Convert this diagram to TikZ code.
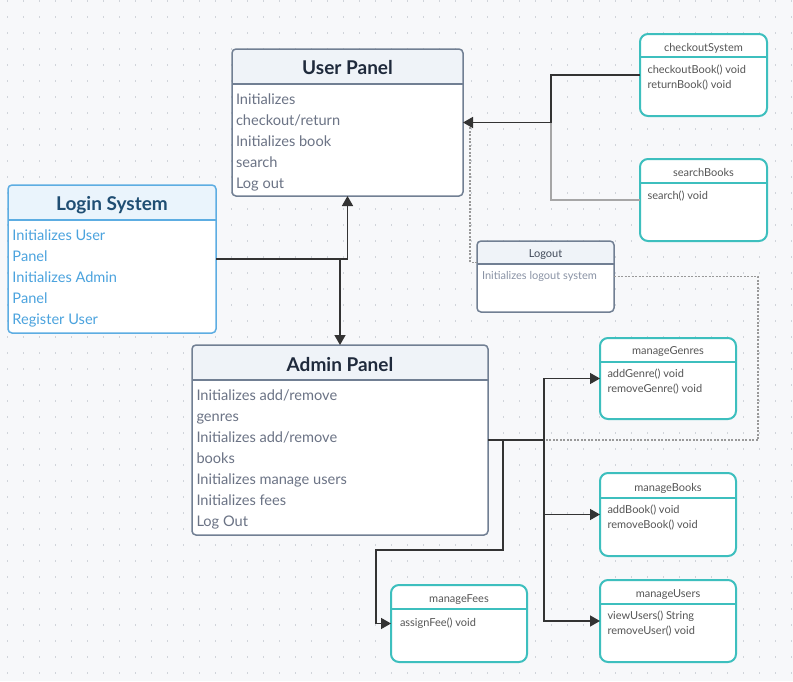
\documentclass[tikz,border=0pt]{standalone}
\usepackage{fontspec}
\setmainfont{Lato}
\usetikzlibrary{arrows.meta,calc}

\definecolor{canvas}{HTML}{F7F8FA}
\definecolor{griddot}{HTML}{D0D4DA}
\definecolor{panelborder}{HTML}{717F93}
\definecolor{panelhead}{HTML}{EFF3F8}
\definecolor{paneltitle}{HTML}{1F2A3C}
\definecolor{paneltext}{HTML}{6B7385}
\definecolor{loginborder}{HTML}{5DADE2}
\definecolor{loginhead}{HTML}{EAF4FC}
\definecolor{logintitle}{HTML}{1F4E73}
\definecolor{logintext}{HTML}{4BA3DE}
\definecolor{tealborder}{HTML}{3DBFBE}
\definecolor{tealtext}{HTML}{555555}
\definecolor{logouttext}{HTML}{8A93A5}
\definecolor{wire}{HTML}{333333}
\definecolor{wirelight}{HTML}{A6A6A6}
\definecolor{dashwire}{HTML}{999999}

\tikzset{
  boxbase/.style={fill=white, inner sep=0pt, outer sep=0pt},
  panel/.style={boxbase, draw=panelborder, line width=1.5pt, rounded corners=4pt},
  loginpanel/.style={boxbase, draw=loginborder, line width=1.5pt, rounded corners=4pt},
  tealbox/.style={boxbase, draw=tealborder, line width=2pt, rounded corners=8pt},
  txt/.style={inner sep=0pt, outer sep=0pt},
  bigtitle/.style={txt, font=\fontsize{19}{22}\selectfont\bfseries, text=paneltitle},
  paneltxt/.style={txt, font=\fontsize{14.6}{21}\selectfont, text=paneltext},
  logintitlefont/.style={txt, font=\fontsize{19}{22}\selectfont\bfseries, text=logintitle},
  logintxt/.style={txt, font=\fontsize{14.6}{21}\selectfont, text=logintext},
  smalltitle/.style={txt, font=\fontsize{11}{14}\selectfont, text=tealtext},
  smalltxt/.style={txt, font=\fontsize{11}{14}\selectfont, text=tealtext},
  logoutttl/.style={txt, font=\fontsize{11}{14}\selectfont, text=paneltitle!85},
  logouttxt/.style={txt, font=\fontsize{11}{14}\selectfont, text=logouttext},
  conn/.style={draw=wire, line width=1.5pt, -{Triangle[length=10pt,width=11pt]}},
  lightconn/.style={draw=wirelight, line width=1.5pt},
  dashconn/.style={draw=dashwire, line width=1.2pt, dash pattern=on 2pt off 1.5pt},
}

% class box: name, style, x, y, width, height, header height, header fill
\newcommand\classbox[8]{%
  \node[#2, minimum width=#5pt, minimum height=#6pt, anchor=north west,
    path picture={\fill[#8] (path picture bounding box.north west)
      rectangle ([yshift=-#7pt]path picture bounding box.north east);}]
    (#1) at (#3,#4) {};
  \draw[#2, fill=none, rounded corners=0pt]
    ([yshift=-#7pt]#1.north west) -- ([yshift=-#7pt]#1.north east);
}

% lines of a box body: name, style, x, first baseline, pitch, lines
\newcommand\bodylines[6]{%
  \foreach \t [count=\i] in {#6} {
    \node[#2, anchor=base west] (#1-\i) at (#3, {#4+(\i-1)*#5}) {\t};
  }
}

\begin{document}
\begin{tikzpicture}[x=1pt, y=-1pt]
  \useasboundingbox (0,0) rectangle (793,681);
  \fill[canvas] (0,0) rectangle (793,681);

  % dotted grid
  \foreach \gx in {0,...,49} {
    \foreach \gy in {0,...,42} {
      \fill[griddot] ({7.7+16*\gx-0.75}, {1+16*\gy-0.75}) rectangle ++(1.5,1.5);
    }
  }

  % boxes
  \classbox{user}{panel}{232}{49}{231}{147}{35}{panelhead}
  \classbox{login}{loginpanel}{8}{185}{208}{148}{35}{loginhead}
  \classbox{admin}{panel}{192}{345}{296}{190}{35}{panelhead}
  \classbox{logout}{panel}{477}{241}{137}{71}{23}{panelhead}
  \classbox{checkout}{tealbox}{640}{34}{127}{82}{23}{white}
  \classbox{search}{tealbox}{640}{159}{127}{82}{24}{white}
  \classbox{genres}{tealbox}{600}{338}{136}{81}{24}{white}
  \classbox{books}{tealbox}{600}{473}{136}{83}{25}{white}
  \classbox{users}{tealbox}{600}{580}{136}{82}{24}{white}
  \classbox{fees}{tealbox}{391}{585}{136}{77}{24}{white}

  % titles
  \node[bigtitle, anchor=base] (user-t) at (347.5,74) {User Panel};
  \node[logintitlefont, anchor=base] (login-t) at (112,210) {Login System};
  \node[bigtitle, anchor=base] (admin-t) at (340,371) {Admin Panel};
  \node[logoutttl, anchor=base] (logout-t) at (545.5,257.5) {Logout};
  \node[smalltitle, anchor=base] (checkout-t) at (703.5,51) {checkoutSystem};
  \node[smalltitle, anchor=base] (search-t) at (703.5,176.5) {searchBooks};
  \node[smalltitle, anchor=base] (genres-t) at (668,354.5) {manageGenres};
  \node[smalltitle, anchor=base] (books-t) at (668,491) {manageBooks};
  \node[smalltitle, anchor=base] (users-t) at (668,597.5) {manageUsers};
  \node[smalltitle, anchor=base] (fees-t) at (459,602.5) {manageFees};

  % body texts
  \bodylines{user-b}{paneltxt}{236}{104}{21}{Initializes,checkout/return,Initializes book,search,Log out}
  \bodylines{login-b}{logintxt}{12.5}{240}{21}{Initializes User,Panel,Initializes Admin,Panel,Register User}
  \bodylines{admin-b}{paneltxt}{196.5}{400}{21}{Initializes add/remove,genres,Initializes add/remove,books,Initializes manage users,Initializes fees,Log Out}
  \bodylines{logout-b}{logouttxt}{482}{279.5}{15}{Initializes logout system}
  \bodylines{checkout-b}{smalltxt}{647.5}{73.5}{15}{checkoutBook() void,returnBook() void}
  \bodylines{search-b}{smalltxt}{647.5}{199}{15}{search() void}
  \bodylines{genres-b}{smalltxt}{607.5}{377}{15}{addGenre() void,removeGenre() void}
  \bodylines{books-b}{smalltxt}{607.5}{513}{15}{addBook() void,removeBook() void}
  \bodylines{users-b}{smalltxt}{607.5}{619.5}{15}{viewUsers() String,removeUser() void}
  \bodylines{fees-b}{smalltxt}{400}{626}{15}{assignFee() void}

  % routing points
  \coordinate (ujoin) at (551,122.5);
  \coordinate (lgin) at ($(logout.north west)!0.3!(logout.south west)$);
  \coordinate (lgturn) at (758,440);
  \coordinate (abus) at (544,440);
  \coordinate (fturn) at (503,550);
  \coordinate (fleft) at (376,550);

  % dashed links of the logout system
  \draw[dashconn] (lgin) -| ([xshift=7pt]user.east) -- (user.east);
  \draw[dashconn] (logout.east) -| (lgturn) -- (admin.east);

  % login system to both panels
  \draw[conn] (login.east) -| (user.south);
  \draw[conn] (login.east) -| (admin.north);

  % user panel services
  \draw[conn] (checkout.west) -| (ujoin) -- (user.east);
  \draw[lightconn] (search.west) -| (ujoin);

  % admin panel services
  \draw[conn] (admin.east) -- (abus) |- (genres.west);
  \draw[conn] (abus) |- (books.west);
  \draw[conn] (abus) |- (users.west);
  \draw[conn] (admin.east) -| (fturn) -- (fleft) |- (fees.west);
\end{tikzpicture}
\end{document}
